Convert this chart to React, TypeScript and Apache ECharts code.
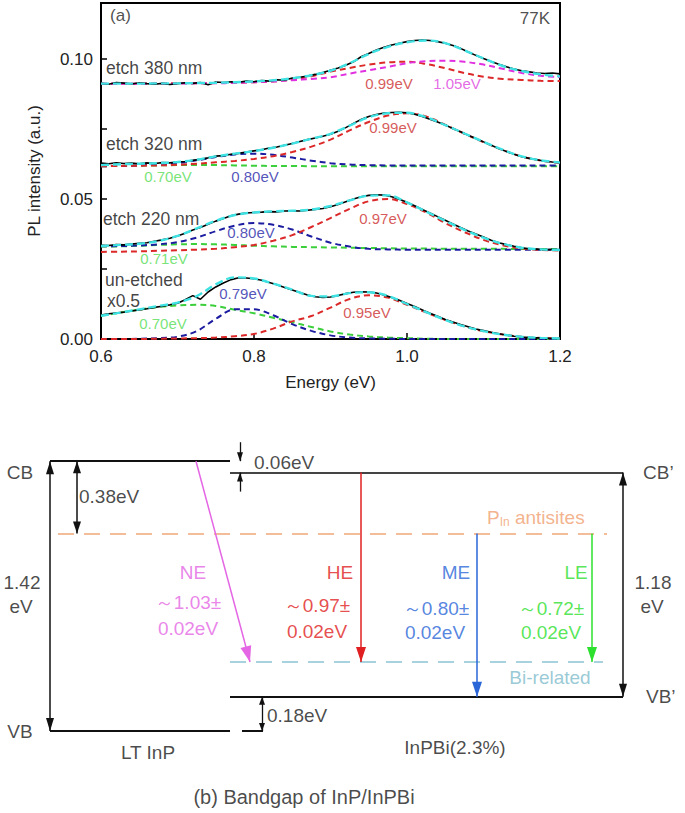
import React, { useEffect, useRef } from 'react';
import * as echarts from 'echarts';

// ---------- (a) PL spectra ----------
const E_FIT = [0.6, 0.625, 0.65, 0.675, 0.7, 0.725, 0.75, 0.775, 0.8, 0.825, 0.85, 0.875, 0.9, 0.925, 0.95, 0.975, 1.0, 1.025, 1.05, 1.075, 1.1, 1.125, 1.15, 1.175, 1.2];
const E_DATA = [0.6, 0.61, 0.62, 0.63, 0.64, 0.65, 0.66, 0.67, 0.68, 0.69, 0.7, 0.71, 0.72, 0.73, 0.74, 0.75, 0.76, 0.77, 0.78, 0.79, 0.8, 0.81, 0.82, 0.83, 0.84, 0.85, 0.86, 0.87, 0.88, 0.89, 0.9, 0.91, 0.92, 0.93, 0.94, 0.95, 0.96, 0.97, 0.98, 0.99, 1.0, 1.01, 1.02, 1.03, 1.04, 1.05, 1.06, 1.07, 1.08, 1.09, 1.1, 1.11, 1.12, 1.13, 1.14, 1.15, 1.16, 1.17, 1.18, 1.19, 1.2];

// un-etched (x0.5)
const UN_DATA = [0.0086, 0.0090, 0.0093, 0.0096, 0.0100, 0.0104, 0.0108, 0.0113, 0.0117, 0.0122, 0.0128, 0.0140, 0.0155, 0.0142, 0.0168, 0.0186, 0.0200, 0.0212, 0.0219, 0.0218, 0.0215, 0.0210, 0.0202, 0.0194, 0.0184, 0.0175, 0.0166, 0.0157, 0.0151, 0.0148, 0.0150, 0.0155, 0.0162, 0.0167, 0.0169, 0.0168, 0.0164, 0.0157, 0.0148, 0.0138, 0.0127, 0.0116, 0.0104, 0.0092, 0.0081, 0.0070, 0.0061, 0.0052, 0.0044, 0.0036, 0.0030, 0.0024, 0.0019, 0.0014, 0.0010, 0.0007, 0.0005, 0.0004, 0.0003, 0.0002, 0.0002];
const UN_FIT = [0.0083, 0.0094, 0.0106, 0.0118, 0.0130, 0.0153, 0.0195, 0.0220, 0.0216, 0.0198, 0.0176, 0.0154, 0.0152, 0.0164, 0.0167, 0.0154, 0.0125, 0.0096, 0.0068, 0.0045, 0.0028, 0.0016, 0.0008, 0.0004, 0.0002];
const UN_G070 = [0.0083, 0.0094, 0.0105, 0.0114, 0.0120, 0.0122, 0.0118, 0.0104, 0.0092, 0.0076, 0.0060, 0.0043, 0.0027, 0.0016, 0.0009, 0.0005, 0.0003, 0.0001, 0, 0, 0, 0, 0, 0, 0];
const UN_B079 = [0, 0, 0.0001, 0.0003, 0.0008, 0.0028, 0.0072, 0.0106, 0.0106, 0.0085, 0.0053, 0.0029, 0.0013, 0.0005, 0.0002, 0.0001, 0, 0, 0, 0, 0, 0, 0, 0, 0];
const UN_R095 = [0, 0, 0, 0.0001, 0.0002, 0.0003, 0.0005, 0.0010, 0.0018, 0.0037, 0.0063, 0.0082, 0.0112, 0.0143, 0.0156, 0.0148, 0.0122, 0.0095, 0.0068, 0.0045, 0.0028, 0.0016, 0.0008, 0.0004, 0.0002];

// etch 220 nm
const E220_DATA = [0.0335, 0.0334, 0.0337, 0.0336, 0.0339, 0.0342, 0.0344, 0.0349, 0.0354, 0.0360, 0.0368, 0.0378, 0.0389, 0.0398, 0.0410, 0.0421, 0.0430, 0.0440, 0.0446, 0.0450, 0.0452, 0.0453, 0.0455, 0.0454, 0.0457, 0.0458, 0.0457, 0.0460, 0.0463, 0.0466, 0.0472, 0.0480, 0.0490, 0.0500, 0.0508, 0.0513, 0.0515, 0.0514, 0.0508, 0.0499, 0.0488, 0.0476, 0.0463, 0.0450, 0.0437, 0.0424, 0.0411, 0.0398, 0.0386, 0.0375, 0.0364, 0.0353, 0.0344, 0.0337, 0.0331, 0.0326, 0.0322, 0.0321, 0.0319, 0.0320, 0.0318];
const E220_FIT = [0.0332, 0.0336, 0.0340, 0.0350, 0.0368, 0.0395, 0.0422, 0.0443, 0.0452, 0.0456, 0.0458, 0.0462, 0.0475, 0.0495, 0.0512, 0.0513, 0.0488, 0.0455, 0.0422, 0.0390, 0.0362, 0.0340, 0.0326, 0.0320, 0.0318];
const E220_G071 = [0.0330, 0.0331, 0.0333, 0.0336, 0.0338, 0.0339, 0.0338, 0.0336, 0.0333, 0.0331, 0.0329, 0.0328, 0.0327, 0.0326, 0.0325, 0.0324, 0.0323, 0.0323, 0.0322, 0.0322, 0.0322, 0.0322, 0.0321, 0.0321, 0.0321];
const E220_B080 = [0.0331, 0.0332, 0.0334, 0.0338, 0.0346, 0.0362, 0.0385, 0.0405, 0.0414, 0.0408, 0.0391, 0.0366, 0.0344, 0.0330, 0.0322, 0.0320, 0.0319, 0.0319, 0.0319, 0.0319, 0.0319, 0.0319, 0.0319, 0.0319, 0.0319];
const E220_R097 = [0.0311, 0.0312, 0.0313, 0.0315, 0.0317, 0.0319, 0.0322, 0.0328, 0.0336, 0.0351, 0.0371, 0.0400, 0.0432, 0.0465, 0.0492, 0.0500, 0.0482, 0.0452, 0.0414, 0.0382, 0.0354, 0.0335, 0.0323, 0.0318, 0.0316];

// etch 320 nm
const E320_DATA = [0.0628, 0.0626, 0.0629, 0.0627, 0.0628, 0.0626, 0.0629, 0.0627, 0.0630, 0.0629, 0.0632, 0.0634, 0.0638, 0.0642, 0.0647, 0.0653, 0.0655, 0.0660, 0.0663, 0.0668, 0.0672, 0.0676, 0.0682, 0.0686, 0.0692, 0.0698, 0.0705, 0.0712, 0.0718, 0.0724, 0.0731, 0.0742, 0.0755, 0.0770, 0.0784, 0.0795, 0.0802, 0.0807, 0.0809, 0.0810, 0.0808, 0.0803, 0.0795, 0.0785, 0.0775, 0.0764, 0.0752, 0.0740, 0.0728, 0.0716, 0.0704, 0.0692, 0.0680, 0.0670, 0.0660, 0.0651, 0.0645, 0.0640, 0.0635, 0.0632, 0.0630];
const E320_FIT = [0.0621, 0.0624, 0.0626, 0.0628, 0.0632, 0.0640, 0.0652, 0.0662, 0.0671, 0.0683, 0.0698, 0.0715, 0.0733, 0.0762, 0.0792, 0.0806, 0.0808, 0.0792, 0.0764, 0.0734, 0.0704, 0.0676, 0.0652, 0.0638, 0.0630];
const E320_G070 = [0.0617, 0.0618, 0.0619, 0.0620, 0.0621, 0.0621, 0.0621, 0.0620, 0.0619, 0.0618, 0.0618, 0.0617, 0.0617, 0.0617, 0.0617, 0.0617, 0.0617, 0.0617, 0.0617, 0.0617, 0.0617, 0.0617, 0.0617, 0.0617, 0.0617];
const E320_B080 = [0.0617, 0.0618, 0.0620, 0.0623, 0.0628, 0.0638, 0.0650, 0.0659, 0.0662, 0.0658, 0.0648, 0.0637, 0.0628, 0.0623, 0.0621, 0.0620, 0.0620, 0.0620, 0.0620, 0.0620, 0.0620, 0.0620, 0.0620, 0.0620, 0.0620];
const E320_R099 = [0.0617, 0.0618, 0.0619, 0.0620, 0.0622, 0.0626, 0.0631, 0.0636, 0.0643, 0.0653, 0.0668, 0.0687, 0.0712, 0.0745, 0.0775, 0.0798, 0.0806, 0.0795, 0.0765, 0.0733, 0.0703, 0.0675, 0.0652, 0.0637, 0.0628];

// etch 380 nm
const E380_DATA = [0.0913, 0.0910, 0.0916, 0.0914, 0.0911, 0.0915, 0.0912, 0.0910, 0.0913, 0.0909, 0.0912, 0.0915, 0.0913, 0.0916, 0.0908, 0.0918, 0.0916, 0.0919, 0.0917, 0.0921, 0.0919, 0.0923, 0.0921, 0.0926, 0.0924, 0.0932, 0.0935, 0.0939, 0.0945, 0.0952, 0.0960, 0.0968, 0.0978, 0.0990, 0.1008, 0.1020, 0.1032, 0.1042, 0.1050, 0.1056, 0.1062, 0.1066, 0.1068, 0.1066, 0.1062, 0.1056, 0.1048, 0.1038, 0.1025, 0.1013, 0.1002, 0.0991, 0.0981, 0.0972, 0.0964, 0.0958, 0.0954, 0.0950, 0.0948, 0.0950, 0.0947];
const E380_FIT = [0.0912, 0.0912, 0.0912, 0.0913, 0.0913, 0.0914, 0.0915, 0.0917, 0.0920, 0.0924, 0.0931, 0.0942, 0.0958, 0.0985, 0.1018, 0.1043, 0.1060, 0.1066, 0.1057, 0.1031, 0.1002, 0.0975, 0.0957, 0.0945, 0.0938];
const E380_R099 = [0.0912, 0.0912, 0.0912, 0.0913, 0.0913, 0.0913, 0.0914, 0.0915, 0.0917, 0.0920, 0.0926, 0.0938, 0.0955, 0.0968, 0.0980, 0.0988, 0.0990, 0.0982, 0.0967, 0.0950, 0.0937, 0.0929, 0.0925, 0.0922, 0.0921];
const E380_M105 = [0.0912, 0.0912, 0.0912, 0.0912, 0.0912, 0.0913, 0.0913, 0.0915, 0.0917, 0.0920, 0.0924, 0.0929, 0.0935, 0.0948, 0.0960, 0.0972, 0.0985, 0.0992, 0.0994, 0.0990, 0.0980, 0.0965, 0.0950, 0.0940, 0.0935];

const X_TICKS = [0.6, 0.8, 1.0, 1.2];
const Y_TICK_LABELS = [0, 0.05, 0.1];

// ---------- (b) band diagram, energies in eV (InP VB = 0) ----------
const INP_CB = 1.42;
const INP_VB = 0;
const INPBI_CB = 1.36;
const INPBI_VB = 0.18;
const PIN_LEVEL = 1.04; // 0.38 eV below InP CB
const BI_LEVEL = 0.363;
const TRANS_NAMES = ['NE', 'HE', 'ME', 'LE'];
const TRANS_EV = ['1.03', '0.97', '0.80', '0.72'];

const FONT = "'Liberation Sans', Arial, sans-serif";
const C_RED = '#dc2828';
const C_BLUE = '#1c1ca0';
const C_GREEN = '#3ccf3c';
const C_MAG = '#e030e0';
const C_CYAN = '#3ee2e2';
const T_RED = '#cc3030';
const T_BLUE = '#2828a8';
const T_GREEN = '#55dd55';
const T_MAG = '#dd44dd';

function pairs(xs: number[], ys: number[]) {
  return xs.map((x, i) => [x, ys[i]]);
}

function comp(name: string, ys: number[], color: string) {
  return {
    name, type: 'line', xAxisIndex: 0, yAxisIndex: 0, data: pairs(E_FIT, ys), smooth: 0.35,
    showSymbol: false, silent: true, z: 2,
    lineStyle: { color, width: 2, type: [6, 4] },
  };
}
function meas(name: string, ys: number[]) {
  return {
    name, type: 'line', xAxisIndex: 0, yAxisIndex: 0, data: pairs(E_DATA, ys),
    showSymbol: false, silent: true, z: 3, lineStyle: { color: '#000', width: 1.6 },
  };
}
function fit(name: string, ys: number[]) {
  return {
    name, type: 'line', xAxisIndex: 0, yAxisIndex: 0, data: pairs(E_FIT, ys), smooth: 0.35,
    showSymbol: false, silent: true, z: 4, lineStyle: { color: C_CYAN, width: 2.4, type: [8, 4] },
  };
}

type Lbl = [string, number, number, string, string, number];
const TOP_LABELS: Lbl[] = [
  ['(a)', 0.6118, 0.1157, '#222', 'left', 17],
  ['77K', 1.187, 0.1143, '#222', 'right', 17],
  ['etch 380 nm', 0.6065, 0.0968, '#111', 'left', 17.5],
  ['etch 320 nm', 0.6065, 0.0696, '#111', 'left', 17.5],
  ['etch 220 nm', 0.6026, 0.0429, '#111', 'left', 17.5],
  ['un-etched', 0.6052, 0.0211, '#111', 'left', 17.5],
  ['x0.5', 0.6078, 0.0136, '#111', 'left', 17.5],
  ['0.99eV', 0.9765, 0.0914, T_RED, 'center', 15],
  ['1.05eV', 1.0654, 0.0914, T_MAG, 'center', 15],
  ['0.99eV', 0.9817, 0.0754, T_RED, 'center', 15],
  ['0.70eV', 0.6876, 0.0579, T_GREEN, 'center', 15],
  ['0.80eV', 0.8013, 0.0579, T_BLUE, 'center', 15],
  ['0.97eV', 0.9686, 0.0432, T_RED, 'center', 15],
  ['0.80eV', 0.7961, 0.0379, T_BLUE, 'center', 15],
  ['0.71eV', 0.6824, 0.0286, T_GREEN, 'center', 15],
  ['0.79eV', 0.7856, 0.0161, T_BLUE, 'center', 15],
  ['0.70eV', 0.6810, 0.0057, T_GREEN, 'center', 15],
  ['0.95eV', 0.9477, 0.0093, T_RED, 'center', 15],
];

const NE_C = '#e466e4';
const HE_C = '#e02020';
const ME_C = '#2a66d8';
const LE_C = '#2ee02e';
const TXT = '#1a1a1a';
const DIAG_LABELS: Lbl[] = [
  ['CB', 20, 1.363, TXT, 'center', 19],
  ['VB', 20, 0.0, TXT, 'center', 19],
  ['1.42', 22, 0.784, TXT, 'center', 19],
  ['eV', 21, 0.653, TXT, 'center', 19],
  ['0.38eV', 79, 1.232, TXT, 'left', 19],
  ['0.06eV', 254, 1.411, TXT, 'left', 19],
  ['CB\u2019', 643, 1.363, TXT, 'left', 19],
  ['VB\u2019', 646, 0.179, TXT, 'left', 19],
  ['1.18', 653, 0.784, TXT, 'center', 19],
  ['eV', 652, 0.653, TXT, 'center', 19],
  ['0.18eV', 267, 0.084, TXT, 'left', 19],
  ['LT InP', 148, -0.111, TXT, 'center', 19],
  ['InPBi(2.3%)', 455, -0.089, TXT, 'center', 19],
  ['(b) Bandgap of InP/InPBi', 304, -0.347, TXT, 'center', 20],
  ['Bi-related', 550, 0.284, '#80bccc', 'center', 19],
  [TRANS_NAMES[0], 193, 0.832, NE_C, 'center', 19],
  ['\uFF5E' + TRANS_EV[0] + '\u00B1', 188, 0.674, NE_C, 'center', 19],
  ['0.02eV', 188, 0.542, NE_C, 'center', 19],
  [TRANS_NAMES[1], 340, 0.832, HE_C, 'center', 19],
  ['\uFF5E' + TRANS_EV[1] + '\u00B1', 317, 0.663, HE_C, 'center', 19],
  ['0.02eV', 317, 0.526, HE_C, 'center', 19],
  [TRANS_NAMES[2], 456, 0.832, ME_C, 'center', 19],
  ['\uFF5E' + TRANS_EV[2] + '\u00B1', 436, 0.647, ME_C, 'center', 19],
  ['0.02eV', 435, 0.521, ME_C, 'center', 19],
  [TRANS_NAMES[3], 576, 0.832, LE_C, 'center', 19],
  ['\uFF5E' + TRANS_EV[3] + '\u00B1', 551, 0.647, LE_C, 'center', 19],
  ['0.02eV', 551, 0.521, LE_C, 'center', 19],
];

function labelSeries(labels: Lbl[], axisIndex: number) {
  return {
    type: 'scatter', xAxisIndex: axisIndex, yAxisIndex: axisIndex, symbolSize: 0, silent: true, z: 10,
    clip: false,
    data: labels.map(([t, x, y, color, align, size]) => ({
      value: [x, y],
      label: {
        show: true, position: 'inside', formatter: t, color, align, verticalAlign: 'middle',
        fontSize: size, fontFamily: FONT,
      },
    })),
  };
}

type Seg = { from: [number, number]; to: [number, number]; color: string; width: number; dash?: number[]; a0?: number[]; a1?: number[] };
const SEGMENTS: Seg[] = [
  { from: [50, INP_CB], to: [230, INP_CB], color: '#111', width: 2 },
  { from: [50, INP_VB], to: [230, INP_VB], color: '#111', width: 2 },
  { from: [242, INP_VB], to: [263, INP_VB], color: '#111', width: 2 },
  { from: [230, INPBI_CB], to: [623, INPBI_CB], color: '#444', width: 2 },
  { from: [230, INPBI_VB], to: [623, INPBI_VB], color: '#111', width: 2 },
  { from: [58, PIN_LEVEL], to: [607, PIN_LEVEL], color: '#f0a878', width: 1.5, dash: [16, 10] },
  { from: [230, BI_LEVEL], to: [603, BI_LEVEL], color: '#8cc4d2', width: 1.5, dash: [16, 10] },
  { from: [50, INP_VB], to: [50, INP_CB], color: '#111', width: 1.5, a0: [8, 13], a1: [8, 13] },
  { from: [77, INP_CB], to: [77, PIN_LEVEL], color: '#111', width: 1.5, a0: [8, 12], a1: [8, 12] },
  { from: [240, INP_CB + 0.1], to: [240, INP_CB], color: '#111', width: 1.3, a1: [6, 9] },
  { from: [240, INPBI_CB - 0.1], to: [240, INPBI_CB], color: '#111', width: 1.3, a1: [6, 9] },
  { from: [262, INP_VB], to: [262, INPBI_VB], color: '#111', width: 1.3, a0: [6, 8], a1: [6, 8] },
  { from: [623, INPBI_VB], to: [623, INPBI_CB], color: '#111', width: 1.5, a0: [8, 13], a1: [8, 13] },
  { from: [196, INP_CB], to: [250, BI_LEVEL], color: NE_C, width: 1.5, a1: [11, 16] },
  { from: [361, INPBI_CB], to: [361, BI_LEVEL], color: HE_C, width: 1.5, a1: [10, 15] },
  { from: [477, PIN_LEVEL], to: [477, INPBI_VB], color: ME_C, width: 1.5, a1: [10, 15] },
  { from: [592, PIN_LEVEL], to: [592, BI_LEVEL], color: LE_C, width: 1.5, a1: [10, 15] },
];

function end(coord: [number, number], a?: number[]) {
  if (!a) return { coord, symbol: 'none' };
  return { coord, symbol: 'triangle', symbolSize: a, symbolOffset: [0, a[1] / 2] };
}

export default function App() {
  const ref = useRef<HTMLDivElement>(null);
  useEffect(() => {
    const chart = echarts.init(ref.current!, null, { renderer: 'svg' });
    const isMajor = (v: number) => Y_TICK_LABELS.some((t) => Math.abs(t - v) < 1e-9);
    const option: any = {
      animation: false,
      backgroundColor: '#fff',
      textStyle: { fontFamily: FONT },
      grid: [
        { left: 101, right: 125, top: 3, height: 336, show: true, borderColor: '#000', borderWidth: 2, backgroundColor: 'transparent', containLabel: false },
        { left: 0, width: 685, top: 408, height: 399, containLabel: false },
      ],
      xAxis: [
        {
          gridIndex: 0, type: 'value', min: 0.6, max: 1.2, interval: 0.2,
          axisLine: { show: true, lineStyle: { color: '#000', width: 2 } },
          axisTick: { show: true, inside: true, length: 6, lineStyle: { color: '#000', width: 1.5 } },
          axisLabel: {
            fontSize: 17, color: '#222', margin: 9, fontFamily: FONT,
            formatter: (v: number) => (X_TICKS.some((t) => Math.abs(t - v) < 1e-9) ? v.toFixed(1) : ''),
          },
          splitLine: { show: false },
          name: 'Energy (eV)', nameLocation: 'middle', nameGap: 35,
          nameTextStyle: { fontSize: 17, color: '#222', fontFamily: FONT },
        },
        { gridIndex: 1, type: 'value', min: 0, max: 685, show: false },
      ],
      yAxis: [
        {
          gridIndex: 0, type: 'value', min: 0, max: 0.12, interval: 0.025,
          axisLine: { show: true, lineStyle: { color: '#000', width: 2 } },
          axisTick: { show: true, inside: true, length: 6, lineStyle: { color: '#000', width: 1.5 } },
          axisLabel: {
            fontSize: 17, color: '#222', margin: 8, fontFamily: FONT,
            formatter: (v: number) => (isMajor(v) ? v.toFixed(2) : ''),
          },
          splitLine: { show: false },
          name: 'PL intensity (a.u.)', nameLocation: 'middle', nameGap: 58, nameRotate: 90,
          nameTextStyle: { fontSize: 17, color: '#222', fontFamily: FONT },
        },
        { gridIndex: 1, type: 'value', min: -0.4, max: 1.7, show: false },
      ],
      series: [
        comp('un 0.70', UN_G070, C_GREEN),
        comp('un 0.79', UN_B079, C_BLUE),
        comp('un 0.95', UN_R095, C_RED),
        comp('220 0.71', E220_G071, C_GREEN),
        comp('220 0.80', E220_B080, C_BLUE),
        comp('220 0.97', E220_R097, C_RED),
        comp('320 0.70', E320_G070, C_GREEN),
        comp('320 0.80', E320_B080, C_BLUE),
        comp('320 0.99', E320_R099, C_RED),
        comp('380 0.99', E380_R099, C_RED),
        comp('380 1.05', E380_M105, C_MAG),
        meas('un data', UN_DATA),
        meas('220 data', E220_DATA),
        meas('320 data', E320_DATA),
        meas('380 data', E380_DATA),
        fit('un fit', UN_FIT),
        fit('220 fit', E220_FIT),
        fit('320 fit', E320_FIT),
        fit('380 fit', E380_FIT),
        labelSeries(TOP_LABELS, 0),
        {
          type: 'line', xAxisIndex: 1, yAxisIndex: 1, data: [], silent: true, showSymbol: false,
          markLine: {
            silent: true, animation: false, label: { show: false }, emphasis: { disabled: true },
            data: SEGMENTS.map((s) => [
              { ...end(s.from, s.a0), lineStyle: { color: s.color, width: s.width, type: s.dash ? s.dash : 'solid' }, itemStyle: { color: s.color } },
              end(s.to, s.a1),
            ]),
          },
        },
        labelSeries(DIAG_LABELS, 1),
        {
          type: 'scatter', xAxisIndex: 1, yAxisIndex: 1, symbolSize: 0, silent: true, clip: false,
          data: [{
            value: [487, 1.126],
            label: {
              show: true, position: 'inside', align: 'left', verticalAlign: 'middle',
              formatter: '{a|P}{b|In}{a| antisites}',
              rich: {
                a: { fontSize: 19, color: '#f0a070', fontFamily: FONT, lineHeight: 22 },
                b: { fontSize: 12, color: '#f0a070', fontFamily: FONT, verticalAlign: 'bottom', lineHeight: 12, padding: [0, 0, 0, 0] },
              },
            },
          }],
        },
      ],
    };
    chart.setOption(option);
    return () => chart.dispose();
  }, []);
  return <div ref={ref} style={{ position: 'absolute', left: 0, top: 0, width: 685, height: 813, background: '#fff' }} />;
}
